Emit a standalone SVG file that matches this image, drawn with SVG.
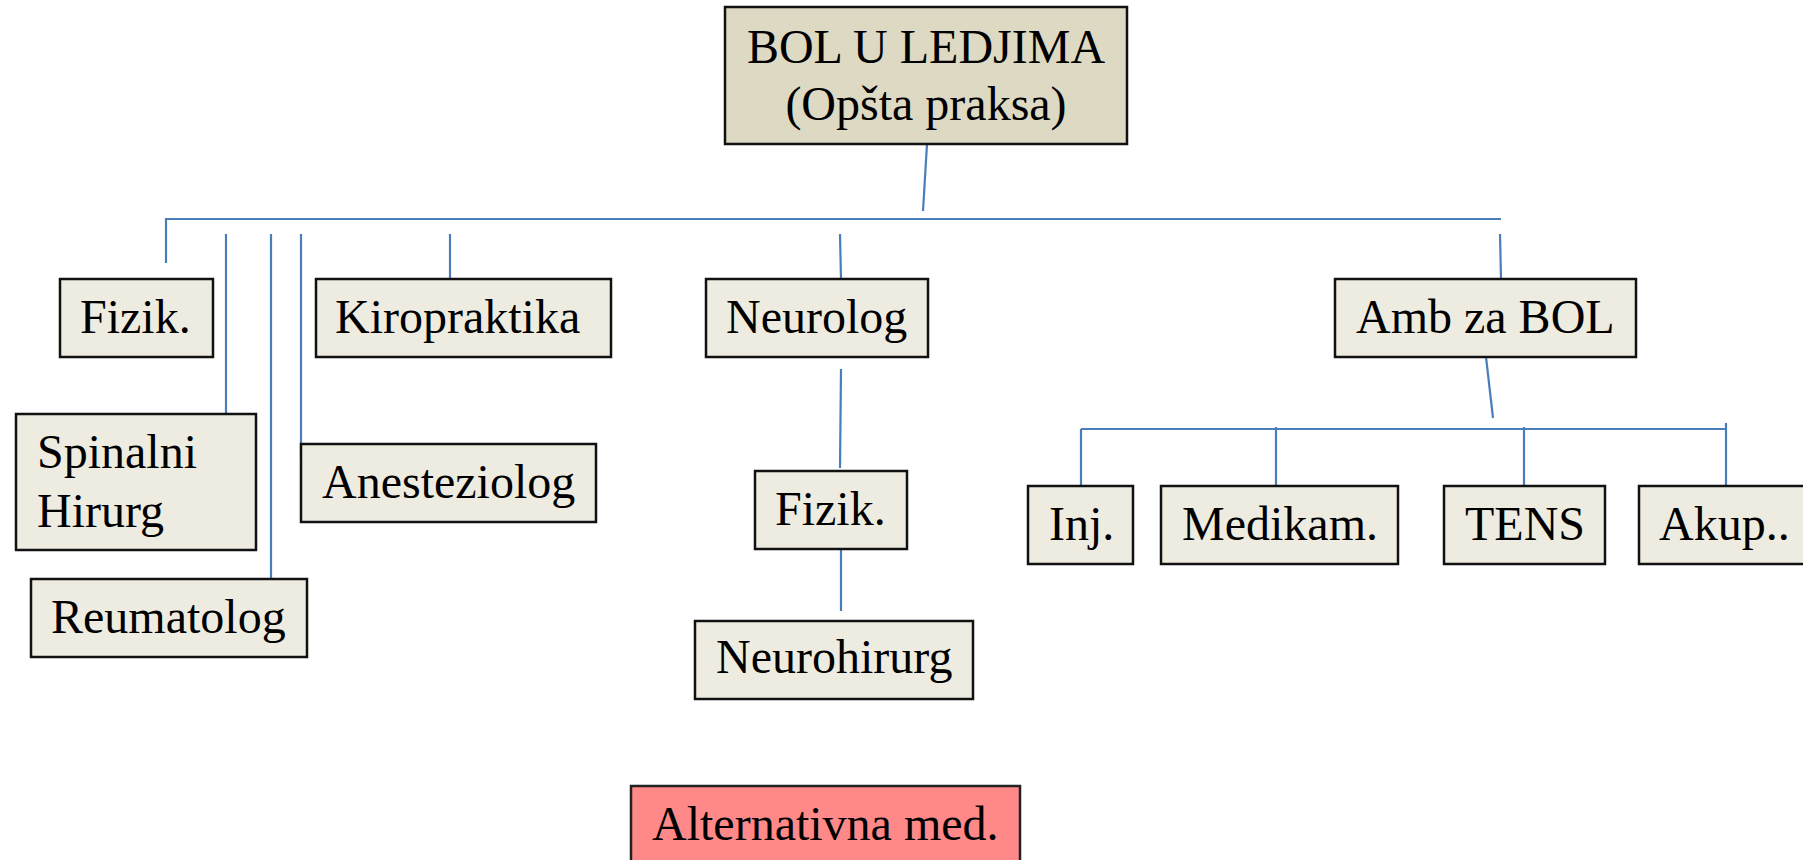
<svg xmlns="http://www.w3.org/2000/svg" width="1803" height="860" viewBox="0 0 1803 860">
<style>
  .box{fill:#EEECE1;stroke:#111;stroke-width:2.5}
  .root{fill:#DDD9C3;stroke:#111;stroke-width:2.5}
  .alt{fill:#FF8888;stroke:#222;stroke-width:2.5}
  .t{font-family:"Liberation Serif","Times New Roman",serif;font-size:48px;fill:#000}
  .c{text-anchor:middle}
  .ln{stroke:#4A7EBB;stroke-width:2.2;fill:none}
</style>
<rect width="1803" height="860" fill="#fff"/>
<g id="connectors">
  <line class="ln" x1="927" y1="144" x2="923" y2="211"/>
  <polyline class="ln" points="166,263 166,219 1501,219"/>
  <line class="ln" x1="226" y1="234" x2="226" y2="414"/>
  <line class="ln" x1="271" y1="234" x2="271" y2="579"/>
  <line class="ln" x1="301" y1="234" x2="301" y2="458"/>
  <line class="ln" x1="450" y1="234" x2="450" y2="279"/>
  <line class="ln" x1="840" y1="234" x2="841" y2="279"/>
  <line class="ln" x1="1500" y1="234" x2="1501" y2="279"/>
  <line class="ln" x1="841" y1="369" x2="840" y2="468"/>
  <line class="ln" x1="841" y1="549" x2="841" y2="611"/>
  <line class="ln" x1="1486" y1="357" x2="1493" y2="418"/>
  <line class="ln" x1="1081" y1="429" x2="1726" y2="429"/>
  <line class="ln" x1="1081" y1="429" x2="1081" y2="488"/>
  <line class="ln" x1="1276" y1="427" x2="1276" y2="488"/>
  <line class="ln" x1="1524" y1="427" x2="1524" y2="488"/>
  <line class="ln" x1="1726" y1="423" x2="1726" y2="488"/>
</g>
<g id="root">
  <rect class="root" x="725" y="7" width="402" height="137"/>
  <text class="t c" x="926" y="63">BOL U LEDJIMA</text>
  <text class="t c" x="926" y="120">(Opšta praksa)</text>
</g>
<g id="fizik1">
  <rect class="box" x="60" y="279" width="153" height="78"/>
  <text class="t" x="80" y="333">Fizik.</text>
</g>
<g id="kiropraktika">
  <rect class="box" x="316" y="279" width="295" height="78"/>
  <text class="t" x="335" y="333">Kiropraktika</text>
</g>
<g id="spinalni">
  <rect class="box" x="16" y="414" width="240" height="136"/>
  <text class="t" x="37" y="468">Spinalni</text>
  <text class="t" x="37" y="527">Hirurg</text>
</g>
<g id="anesteziolog">
  <rect class="box" x="301" y="444" width="295" height="78"/>
  <text class="t" x="322" y="498">Anesteziolog</text>
</g>
<g id="reumatolog">
  <rect class="box" x="31" y="579" width="276" height="78"/>
  <text class="t" x="51" y="633">Reumatolog</text>
</g>
<g id="neurolog">
  <rect class="box" x="706" y="279" width="222" height="78"/>
  <text class="t" x="726" y="333">Neurolog</text>
</g>
<g id="fizik2">
  <rect class="box" x="755" y="471" width="152" height="78"/>
  <text class="t" x="775" y="525">Fizik.</text>
</g>
<g id="neurohirurg">
  <rect class="box" x="695" y="621" width="278" height="78"/>
  <text class="t" x="716" y="673">Neurohirurg</text>
</g>
<g id="amb">
  <rect class="box" x="1335" y="279" width="301" height="78"/>
  <text class="t" x="1356" y="333">Amb za BOL</text>
</g>
<g id="inj">
  <rect class="box" x="1028" y="486" width="105" height="78"/>
  <text class="t" x="1049" y="540">Inj.</text>
</g>
<g id="medikam">
  <rect class="box" x="1161" y="486" width="237" height="78"/>
  <text class="t" x="1182" y="540">Medikam.</text>
</g>
<g id="tens">
  <rect class="box" x="1444" y="486" width="161" height="78"/>
  <text class="t" x="1465" y="540">TENS</text>
</g>
<g id="akup">
  <rect class="box" x="1639" y="486" width="190" height="78"/>
  <text class="t" x="1659" y="540">Akup..</text>
</g>
<g id="alternativna">
  <rect class="alt" x="631" y="786" width="389" height="90"/>
  <text class="t" x="652" y="840">Alternativna med.</text>
</g>
</svg>
